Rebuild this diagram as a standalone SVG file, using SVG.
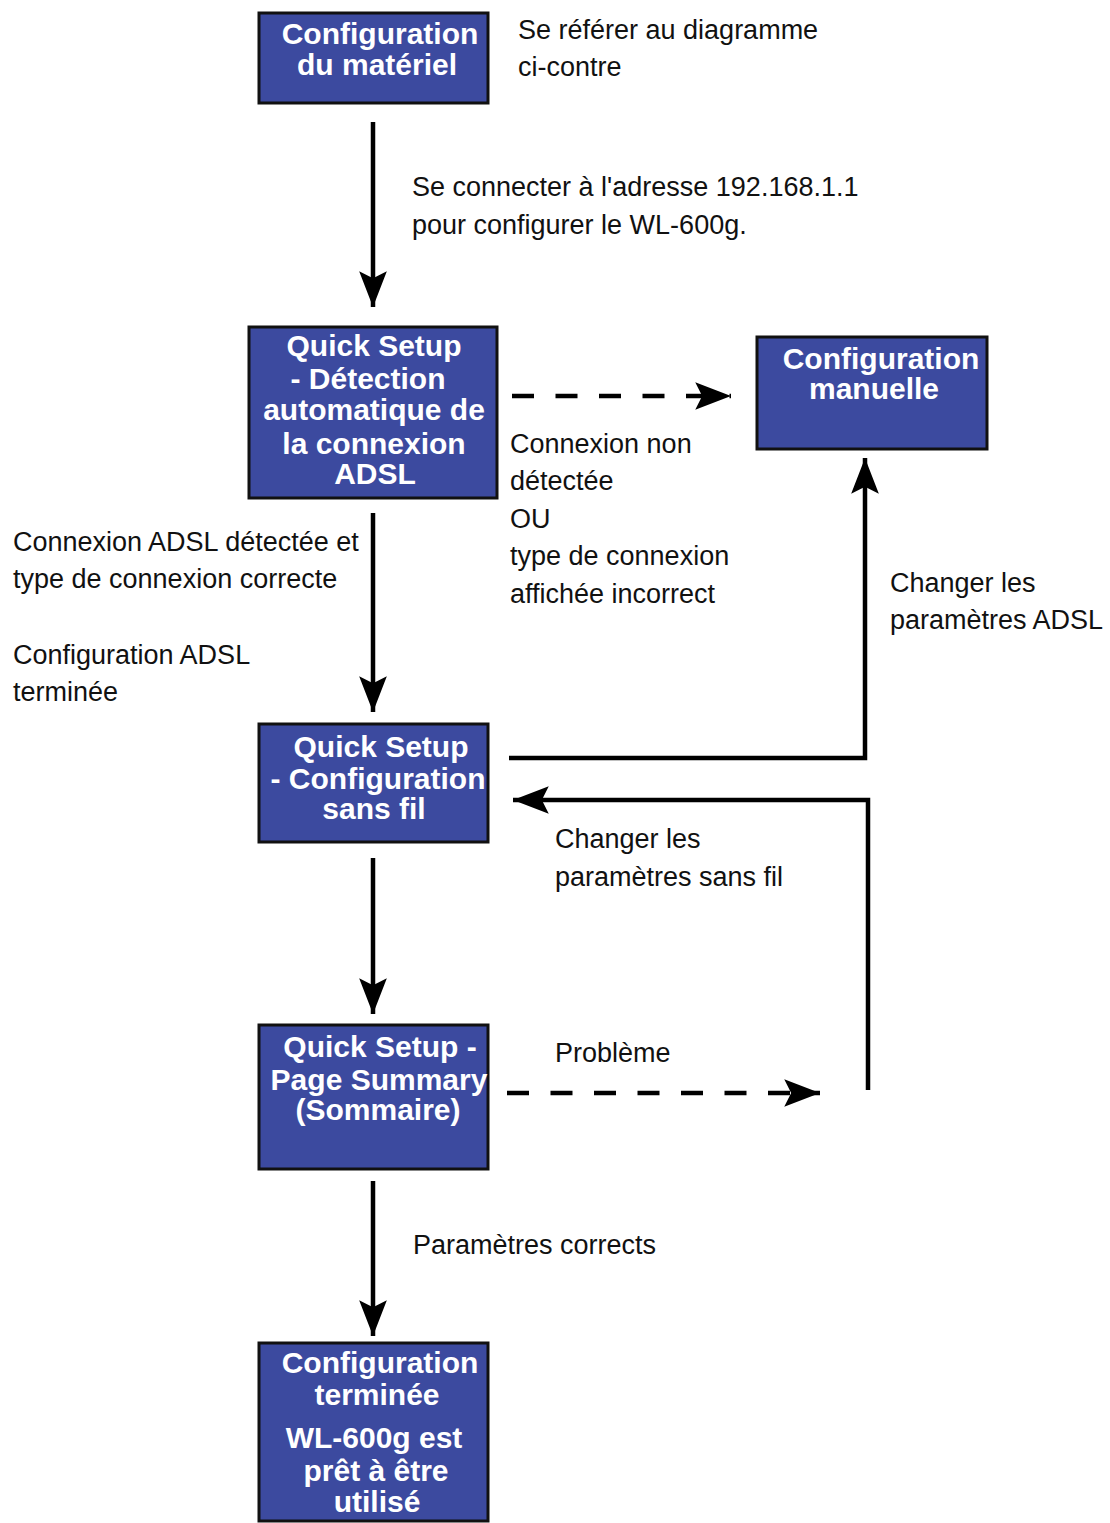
<svg xmlns="http://www.w3.org/2000/svg" width="1110" height="1523" viewBox="0 0 1110 1523">
<style>
.box{fill:#3c4a9f;stroke:#111;stroke-width:3}
.bt{font-family:"Liberation Sans",Arial,sans-serif;font-weight:bold;font-size:30px;fill:#fff;text-anchor:middle}
.lt{font-family:"Liberation Sans",Arial,sans-serif;font-size:27px;fill:#111}
.ln{fill:none;stroke:#000;stroke-width:4.5}
.dash{stroke-dasharray:22 21.5}
</style>
<defs>
<marker id="ah" markerUnits="userSpaceOnUse" markerWidth="40" markerHeight="30" viewBox="-32 -13 34 26" refX="0" refY="0" orient="auto">
<path d="M0,0 L-31,-12 L-25,0 L-31,12 Z" fill="#000"/>
</marker>
</defs>
<rect width="1110" height="1523" fill="#fff"/>
<g id="connectors">
<line class="ln" x1="373" y1="122" x2="373" y2="307" marker-end="url(#ah)"/>
<line class="ln" x1="373" y1="513" x2="373" y2="712" marker-end="url(#ah)"/>
<line class="ln" x1="373" y1="858" x2="373" y2="1014" marker-end="url(#ah)"/>
<line class="ln" x1="373" y1="1181" x2="373" y2="1336" marker-end="url(#ah)"/>
<line class="ln dash" x1="512" y1="396" x2="731" y2="396" marker-end="url(#ah)"/>
<polyline class="ln" points="509,758 865,758 865,458" marker-end="url(#ah)"/>
<polyline class="ln" points="868,1090 868,800 513,800" marker-end="url(#ah)"/>
<line class="ln dash" x1="507" y1="1093" x2="820" y2="1093" marker-end="url(#ah)"/>
</g>
<g id="n1">
<rect class="box" x="259" y="13" width="229" height="90"/>
<text class="bt" x="380" y="44">Configuration</text>
<text class="bt" x="377" y="75">du matériel</text>
</g>
<g id="n2">
<rect class="box" x="249" y="327" width="248" height="171"/>
<text class="bt" x="374" y="356">Quick Setup</text>
<text class="bt" x="368" y="389">- Détection</text>
<text class="bt" x="374" y="420">automatique de</text>
<text class="bt" x="374" y="454">la connexion</text>
<text class="bt" x="375" y="484">ADSL</text>
</g>
<g id="n3">
<rect class="box" x="757" y="337" width="230" height="112"/>
<text class="bt" x="881" y="369">Configuration</text>
<text class="bt" x="874" y="399">manuelle</text>
</g>
<g id="n4">
<rect class="box" x="259" y="724" width="229" height="118"/>
<text class="bt" x="381" y="757">Quick Setup</text>
<text class="bt" x="378" y="789">- Configuration</text>
<text class="bt" x="374" y="819">sans fil</text>
</g>
<g id="n5">
<rect class="box" x="259" y="1025" width="229" height="144"/>
<text class="bt" x="380" y="1057">Quick Setup -</text>
<text class="bt" x="379" y="1090">Page Summary</text>
<text class="bt" x="378" y="1120">(Sommaire)</text>
</g>
<g id="n6">
<rect class="box" x="259" y="1343" width="229" height="178"/>
<text class="bt" x="380" y="1373">Configuration</text>
<text class="bt" x="377" y="1405">terminée</text>
<text class="bt" x="374" y="1448">WL-600g est</text>
<text class="bt" x="376" y="1481">prêt à être</text>
<text class="bt" x="377" y="1512">utilisé</text>
</g>
<g id="labels">
<text class="lt" x="518" y="39">Se référer au diagramme</text>
<text class="lt" x="518" y="76">ci-contre</text>
<text class="lt" x="412" y="196">Se connecter à l'adresse 192.168.1.1</text>
<text class="lt" x="412" y="234">pour configurer le WL-600g.</text>
<text class="lt" x="510" y="453">Connexion non</text>
<text class="lt" x="510" y="490">détectée</text>
<text class="lt" x="510" y="528">OU</text>
<text class="lt" x="510" y="565">type de connexion</text>
<text class="lt" x="510" y="603">affichée incorrect</text>
<text class="lt" x="13" y="551">Connexion ADSL détectée et</text>
<text class="lt" x="13" y="588">type de connexion correcte</text>
<text class="lt" x="13" y="664">Configuration ADSL</text>
<text class="lt" x="13" y="701">terminée</text>
<text class="lt" x="890" y="592">Changer les</text>
<text class="lt" x="890" y="629">paramètres ADSL</text>
<text class="lt" x="555" y="848">Changer les</text>
<text class="lt" x="555" y="886">paramètres sans fil</text>
<text class="lt" x="555" y="1062">Problème</text>
<text class="lt" x="413" y="1254">Paramètres corrects</text>
</g>
</svg>
